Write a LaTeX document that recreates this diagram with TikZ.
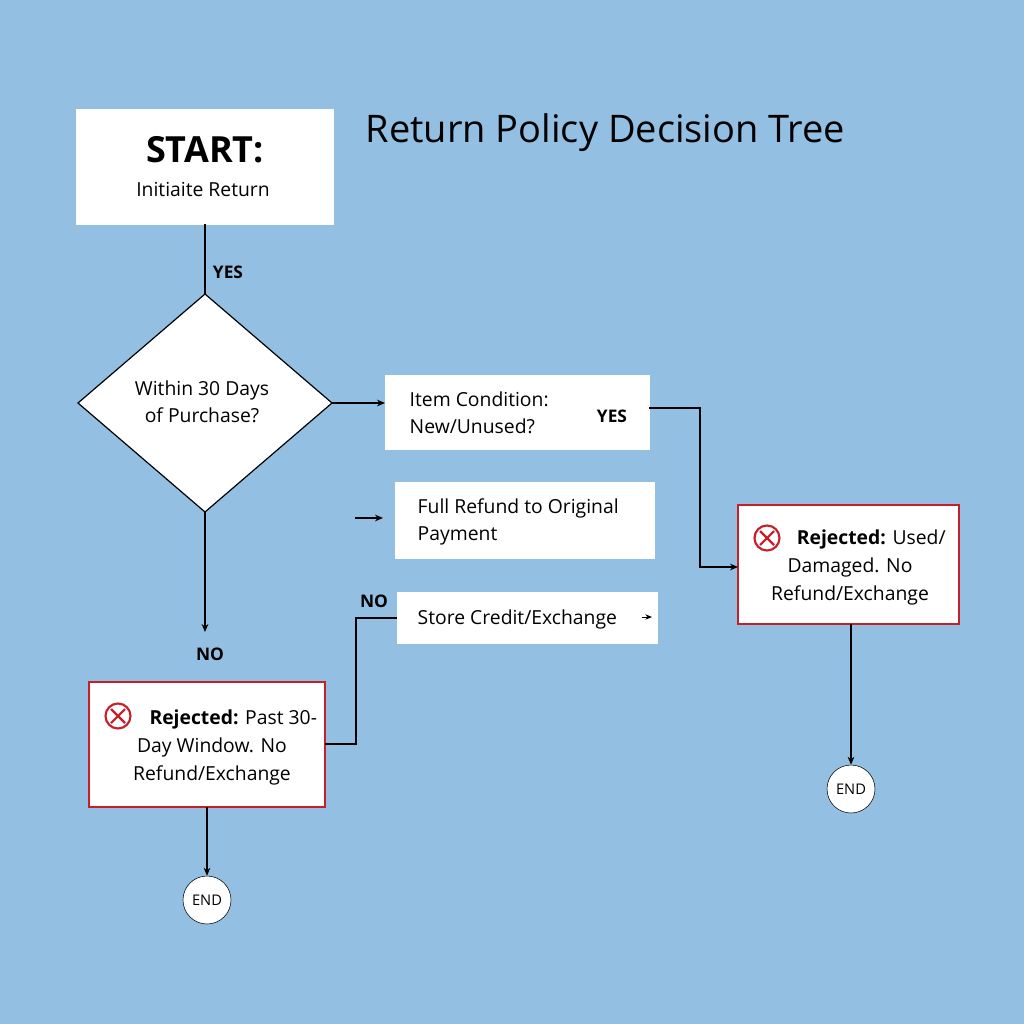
\documentclass[tikz,border=0pt]{standalone}
\usepackage{fontspec}
\setmainfont{Open Sans}
\usetikzlibrary{shapes.geometric}
\definecolor{bgblue}{RGB}{147,192,226}
\definecolor{rejred}{RGB}{200,30,40}
\tikzset{
  box/.style={draw=white,fill=white,inner sep=0pt},
  rejbox/.style={draw=rejred,line width=1.5pt,fill=white,inner sep=0pt},
  endnode/.style={circle,draw=black,fill=white,minimum size=48*0.75pt,inner sep=0pt,font=\fontsize{11}{12}\selectfont},
  lbl/.style={font=\bfseries\fontsize{13}{15}\selectfont},
  txt/.style={align=left,font=\fontsize{14.5}{20}\selectfont},
  conn/.style={line width=0.9pt},
  arr/.style={line width=0.9pt,-{Stealth[length=6pt,width=5pt]}}
}
\usetikzlibrary{arrows.meta}
\newcommand{\xicon}[2]{%
  \draw[rejred,line width=1.6pt] (#1,#2) circle (12.5);
  \draw[rejred,line width=1.6pt] (#1-7,#2-7) -- (#1+7,#2+7) (#1-7,#2+7) -- (#1+7,#2-7);}
\begin{document}
\begin{tikzpicture}[x=0.75pt,y=0.75pt,yscale=-1,xscale=1]
\fill[bgblue] (0,0) rectangle (1024,1024);

%Start
\draw[box] (76,109) rectangle (333,224);
\node (start) at (205,166) {};
\node at (205,150) {\bfseries\fontsize{27}{30}\selectfont START:};
\node at (203,189) {\fontsize{14.5}{18}\selectfont Initiaite Return};
\node[anchor=west] (title) at (361,133) {\fontsize{28.5}{32}\selectfont Return Policy Decision Tree};

%Diamond
\draw[fill=white,line width=0.9pt] (205,294) -- (332,403) -- (205,512) -- (78,403) -- cycle;
\coordinate (dtop) at (205,294);
\coordinate (dright) at (332,403);
\coordinate (dbot) at (205,512);
\node[align=center,font=\fontsize{14.5}{20}\selectfont] (within) at (202,402) {Within 30 Days\\of Purchase?};
\coordinate (sbot) at (205,224);
\draw[conn] (sbot) -- (dtop);
\node[lbl] at (228,272) {YES};

%Item condition
\draw[box] (385,375) rectangle (649,449);
\node[txt,anchor=west] (item) at (405,413) {Item Condition:\\New/Unused?};
\node[lbl] at (612,416) {YES};
\coordinate (itemL) at (385,403);
\draw[arr] (dright) -- (itemL);

%Full refund
\draw[box] (395,482) rectangle (654,558);
\node[txt,anchor=west] (full) at (413,522) {Full Refund to Original\\Payment};
\coordinate (fa) at (355,518);
\coordinate (fb) at (383,518);
\draw[arr,line width=0.8pt] (fa) -- (fb);

%Store credit
\draw[box] (397,592) rectangle (657,643);
\node[txt,anchor=west] (store) at (413,619) {Store Credit/Exchange};
\coordinate (sa) at (642,617);
\coordinate (sb) at (652,617);
\draw[line width=0.7pt,-{Stealth[length=5pt,width=4pt]}] (sa) -- (sb);

%Rejected right
\draw[rejbox] (738,505) rectangle (959,624);
\xicon{767}{538}
\node[align=center,font=\fontsize{14.5}{21}\selectfont] (rejR) at (850,567) {\hspace*{2.2em}\textbf{Rejected:} Used/\\Damaged. No\\Refund/Exchange};
\coordinate (itemR) at (649,408);
\coordinate (rejRL) at (738,567);
\draw[arr] (itemR) -| (700,500) |- (rejRL);

%End right
\node[endnode] (endR) at (851,789) {END};
\coordinate (rejRB) at (851,624);
\draw[arr] (rejRB) -- (endR);

%Rejected left
\draw[rejbox] (89,682) rectangle (325,807);
\xicon{118}{716}
\node[align=center,font=\fontsize{14.5}{21}\selectfont] (rejL) at (212,747) {\hspace*{2.2em}\textbf{Rejected:} Past 30-\\Day Window. No\\Refund/Exchange};
\coordinate (nobot) at (205,632);
\draw[arr] (dbot) -- (nobot);
\node[lbl] at (210,654) {NO};

\coordinate (rejLR) at (325,744);
\coordinate (storeL) at (397,618);
\draw[conn] (rejLR) -- (356,744) -- (356,618) -- (storeL);
\node[lbl] at (374,601) {NO};

%End left
\node[endnode] (endL) at (207,900) {END};
\coordinate (rejLB) at (207,807);
\draw[arr] (rejLB) -- (endL);
\end{tikzpicture}
\end{document}
